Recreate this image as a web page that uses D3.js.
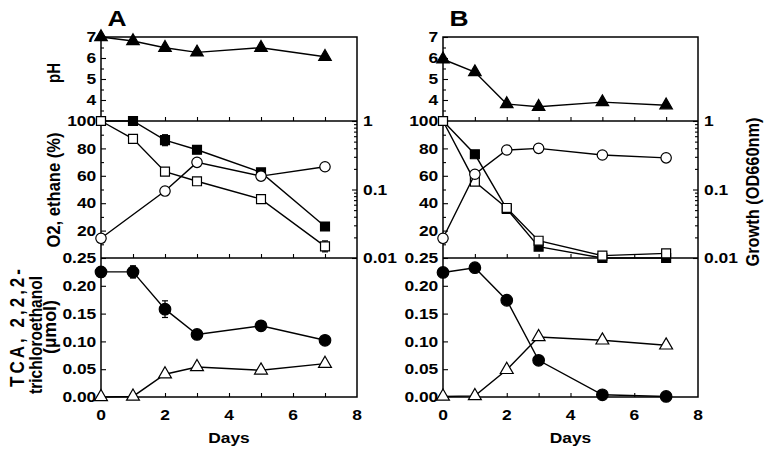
<!DOCTYPE html>
<html><head><meta charset="utf-8">
<script src="https://cdn.jsdelivr.net/npm/d3@7"></script>
<style>
body{margin:0;background:#fff}
svg{display:block}
text{font-family:"Liberation Sans",Arial,Helvetica,sans-serif;font-weight:bold;fill:#000}
</style>
</head><body>
<svg id="c" width="768" height="453"></svg>
<script>
// ---------------- data ----------------
const days = [0, 1, 2, 3, 5, 7];
const xTicks = [0, 2, 4, 6, 8];
const xTicksAll = [0, 1, 2, 3, 4, 5, 6, 7, 8];
const phTicks = [4, 5, 6, 7];
const pctTicks = [20, 40, 60, 80, 100];
const growthTicks = [0.01, 0.1, 1];
const umolTicks = [0, 0.05, 0.10, 0.15, 0.20, 0.25];
const panelLetters = ["A", "B"];

// Panel A
const phA = [7.0, 6.81, 6.49, 6.27, 6.49, 6.06];
const filledSqA = [100, 100, 86, 79, 62.5, 23];
const filledSqErrA = [0, 0, 4, 0, 0, 0];
const openSqA = [100, 87, 63, 56, 43, 8.5];
const openSqErrA = [0, 0, 0, 0, 0, 4];
const growthA = [0.0194, null, 0.095, 0.249, 0.157, 0.215];
const tcaA = [0.225, 0.225, 0.158, 0.1125, 0.128, 0.102];
const tcaErrA = [0, 0.011, 0.015, 0, 0, 0];
const tceA = [0, 0.001, 0.041, 0.054, 0.048, 0.060];

// Panel B
const phB = [5.94, 5.33, 3.81, 3.68, 3.90, 3.75];
const filledSqB = [100, 75.7, 35.8, 8.3, 0, 0];
const openSqB = [100, 55.7, 36.5, 12.6, 1.7, 3.4];
const growthB = [0.0194, 0.167, 0.377, 0.399, 0.319, 0.29];
const tcaB = [0.224, 0.2325, 0.174, 0.066, 0.004, 0.001];
const tceB = [0.001, 0.002, 0.049, 0.108, 0.102, 0.093];

// ---------------- layout ----------------
const SX = 1.2; // horizontal glyph stretch
const FS = 14.5;
const yTop = 37, yMid1 = 121, yMid2 = 258, yBot = 397;
const columns = [
  {x0: 101, x1: 357, letter: panelLetters[0], ph: phA, fsq: filledSqA, fsqErr: filledSqErrA,
   osq: openSqA, osqErr: openSqErrA, gr: growthA, tca: tcaA, tcaErr: tcaErrA, tce: tceA, leftLabels: true, rightTitle: false},
  {x0: 443, x1: 698, letter: panelLetters[1], ph: phB, fsq: filledSqB, fsqErr: days.map(() => 0),
   osq: openSqB, osqErr: days.map(() => 0), gr: growthB, tca: tcaB, tcaErr: days.map(() => 0), tce: tceB, leftLabels: false, rightTitle: true}
];

const svg = d3.select("#c");

function htext(g, x, y, s, size, anchor) {
  return g.append("text").attr("transform", `translate(${x},${y}) scale(${SX},1)`)
    .attr("text-anchor", anchor || "middle").style("font-size", size + "px").text(s);
}
function vtext(g, x, y, s, size, len, adj) {
  const t = g.append("text").attr("transform", `translate(${x},${y}) rotate(-90) scale(1,${SX})`)
    .attr("text-anchor", "middle").style("font-size", size + "px").text(s);
  if (len) t.attr("textLength", len).attr("lengthAdjust", adj || "spacingAndGlyphs");
  return t;
}
function styleAxis(g) {
  g.selectAll(".domain").remove();
  g.selectAll("line").attr("stroke", "#000").attr("stroke-width", 1.1);
  g.selectAll("text").style("font-size", FS + "px").attr("fill", "#000");
}
function stretchLabels(g) {
  g.selectAll("text").attr("transform", `scale(${SX},1)`);
}

columns.forEach(col => {
  const g = svg.append("g");
  const x = d3.scaleLinear().domain([0, 8]).range([col.x0, col.x1]);
  const yPh = d3.scaleLinear().domain([3, 7]).range([yMid1, yTop]);
  const yPct = d3.scaleLinear().domain([0, 100]).range([yMid2, yMid1]);
  const yGr = d3.scaleLog().domain([0.01, 1]).range([yMid2, yMid1]);
  const yUm = d3.scaleLinear().domain([0, 0.25]).range([yBot, yMid2]);

  // ---- left axes ----
  const axPh = g.append("g").attr("transform", `translate(${col.x0},0)`)
    .call(d3.axisLeft(yPh).tickValues(phTicks).tickSize(-5).tickSizeOuter(0).tickPadding(4).tickFormat(d3.format("d")));
  styleAxis(axPh); stretchLabels(axPh);
  const axPhMin = g.append("g").attr("transform", `translate(${col.x0},0)`)
    .call(d3.axisLeft(yPh).tickValues([3.5, 4.5, 5.5, 6.5]).tickSize(-3).tickFormat(""));
  styleAxis(axPhMin);

  const axPct = g.append("g").attr("transform", `translate(${col.x0},0)`)
    .call(d3.axisLeft(yPct).tickValues(pctTicks).tickSize(-5).tickSizeOuter(0).tickPadding(4).tickFormat(d3.format("d")));
  styleAxis(axPct); stretchLabels(axPct);
  const axPctMin = g.append("g").attr("transform", `translate(${col.x0},0)`)
    .call(d3.axisLeft(yPct).tickValues([10, 30, 50, 70, 90]).tickSize(-3).tickFormat(""));
  styleAxis(axPctMin);

  const axUm = g.append("g").attr("transform", `translate(${col.x0},0)`)
    .call(d3.axisLeft(yUm).tickValues(umolTicks).tickSize(-5).tickSizeOuter(0).tickPadding(4).tickFormat(d3.format(".2f")));
  styleAxis(axUm); stretchLabels(axUm);

  // ---- right log axis ----
  const axGr = g.append("g").attr("transform", `translate(${col.x1},0)`)
    .call(d3.axisRight(yGr).tickValues(growthTicks).tickSize(-5).tickPadding(5).tickFormat(d => d3.format("~g")(d)));
  styleAxis(axGr); stretchLabels(axGr);
  const minorLog = [];
  [0.01, 0.1].forEach(dec => { for (let k = 2; k <= 9; k++) minorLog.push(dec * k); });
  const axGrMin = g.append("g").attr("transform", `translate(${col.x1},0)`)
    .call(d3.axisRight(yGr).tickValues(minorLog).tickSize(-3).tickFormat(""));
  styleAxis(axGrMin);

  // ---- x axes (ticks inward, at every panel bottom) ----
  [yMid1, yMid2, yBot].forEach(yy => {
    const a = g.append("g").attr("transform", `translate(0,${yy})`)
      .call(d3.axisBottom(x).tickValues(xTicksAll.slice(1, 8)).tickSize(-4).tickFormat(""));
    styleAxis(a);
  });
  xTicks.forEach(t => htext(g, x(t), 420, String(t), FS));

  // ---- frame ----
  g.append("rect").attr("x", col.x0).attr("y", yTop).attr("width", col.x1 - col.x0).attr("height", yBot - yTop)
    .attr("fill", "none").attr("stroke", "#000").attr("stroke-width", 1.5);
  [yMid1, yMid2].forEach(yy => g.append("line").attr("x1", col.x0).attr("x2", col.x1).attr("y1", yy).attr("y2", yy)
    .attr("stroke", "#000").attr("stroke-width", 1.5));

  // ---- titles ----
  htext(g, col.x0 + 16, 26, col.letter, 22);
  htext(g, (col.x0 + col.x1) / 2, 443, "Days", FS);

  // ---- series drawing helper ----
  function series(vals, yScale, symbol, size, fill, errs) {
    const pts = days.map((d, i) => ({d, v: vals[i], e: errs ? errs[i] : 0})).filter(p => p.v !== null);
    g.append("path").datum(pts)
      .attr("d", d3.line().x(p => x(p.d)).y(p => yScale(p.v)))
      .attr("fill", "none").attr("stroke", "#000").attr("stroke-width", 1.4);
    pts.filter(p => p.e > 0).forEach(p => {
      const cx = x(p.d), ya = yScale(p.v - p.e), yb = yScale(p.v + p.e);
      g.append("line").attr("x1", cx).attr("x2", cx).attr("y1", ya).attr("y2", yb).attr("stroke", "#000").attr("stroke-width", 1.2);
      [ya, yb].forEach(yy => g.append("line").attr("x1", cx - 3).attr("x2", cx + 3).attr("y1", yy).attr("y2", yy).attr("stroke", "#000").attr("stroke-width", 1.2));
    });
    g.selectAll(null).data(pts).enter().append("path")
      .attr("d", d3.symbol().type(symbol).size(size))
      .attr("transform", p => `translate(${x(p.d)},${yScale(p.v)})`)
      .attr("fill", fill).attr("stroke", "#000").attr("stroke-width", 1.2);
  }

  series(col.ph, yPh, d3.symbolTriangle, 68, "#000");
  series(col.fsq, yPct, d3.symbolSquare, 80, "#000", col.fsqErr);
  series(col.osq, yPct, d3.symbolSquare, 80, "#fff", col.osqErr);
  series(col.gr, yGr, d3.symbolCircle, 85, "#fff");
  series(col.tca, yUm, d3.symbolCircle, 105, "#000", col.tcaErr);
  series(col.tce, yUm, d3.symbolTriangle, 72, "#fff");

  // ---- axis titles ----
  if (col.leftLabels) {
    vtext(g, 60, 73, "pH", 15.5, 20);
    vtext(g, 60, 190, "O2, ethane (%)", 15.5, 115);
    vtext(g, 24, 328, "TCA, 2,2,2-", 17, 118, "spacing");
    vtext(g, 42, 335, "trichloroethanol", 15.5);
    vtext(g, 56, 327, "(µmol)", 15.5, 54);
  }
  if (col.rightTitle) {
    vtext(g, 759, 192, "Growth (OD660nm)", 15.5, 149);
  }
});
</script>
</body></html>
